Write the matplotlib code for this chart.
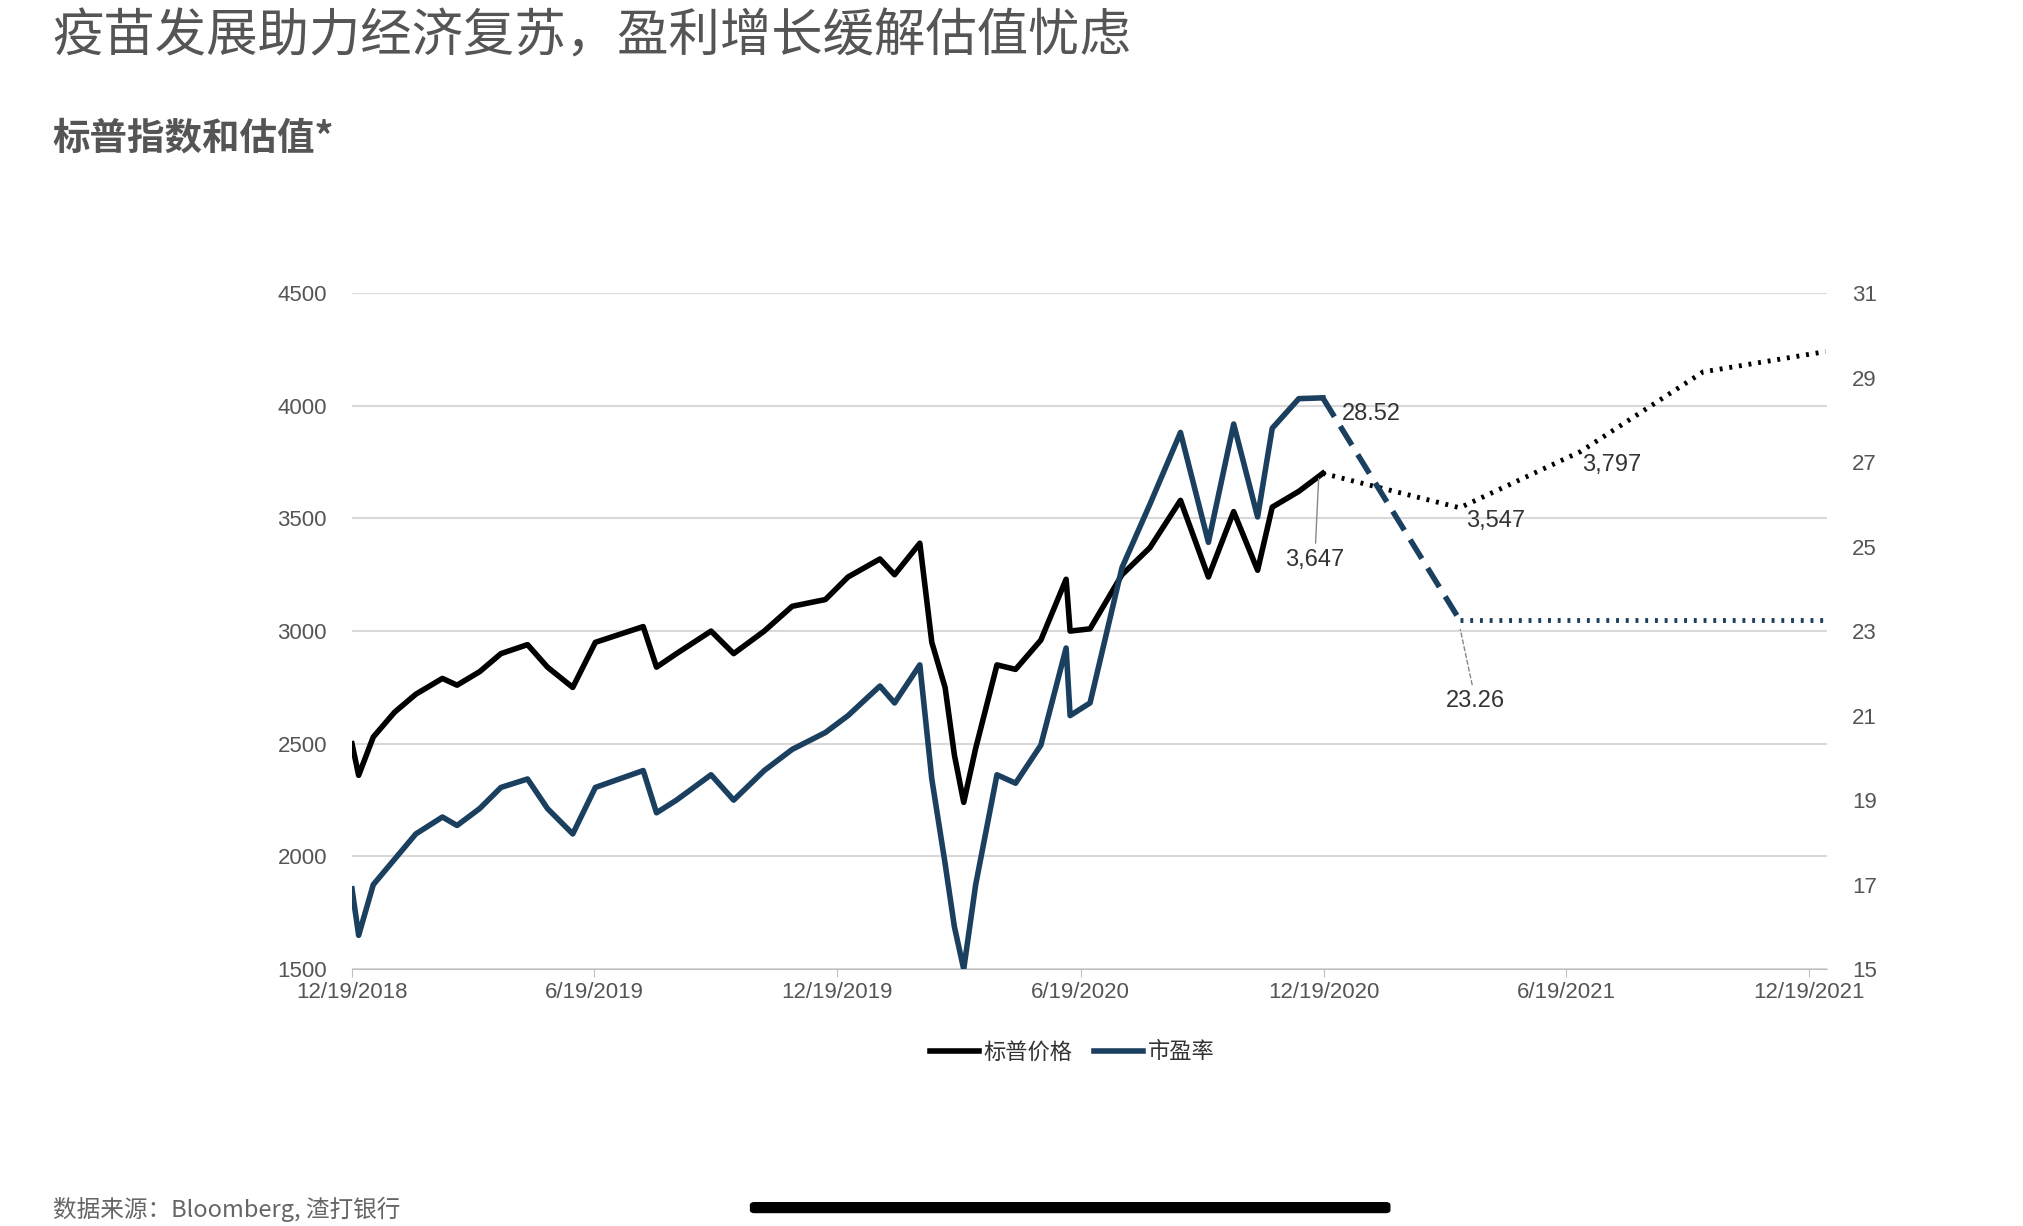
import matplotlib
matplotlib.use("Agg")
import matplotlib.pyplot as plt
import pandas as pd
from matplotlib.lines import Line2D

plt.rcParams['font.family'] = ['Noto Sans CJK SC', 'DejaVu Sans']

price_dates = ["2018-12-19","2018-12-24","2019-01-04","2019-01-20","2019-02-05","2019-02-25","2019-03-08","2019-03-25","2019-04-10","2019-04-30","2019-05-15","2019-06-03","2019-06-20","2019-07-26","2019-08-05","2019-08-20","2019-09-15","2019-10-02","2019-10-25","2019-11-15","2019-12-10","2019-12-27","2020-01-20","2020-01-31","2020-02-19","2020-02-28","2020-03-09","2020-03-16","2020-03-23","2020-04-01","2020-04-17","2020-05-01","2020-05-20","2020-06-08","2020-06-11","2020-06-26","2020-07-20","2020-08-10","2020-09-02","2020-09-23","2020-10-12","2020-10-30","2020-11-10","2020-11-30","2020-12-18"]
price_vals = [2500,2360,2530,2640,2720,2790,2760,2820,2900,2940,2840,2750,2950,3020,2840,2900,3000,2900,3000,3110,3140,3240,3320,3250,3390,2950,2750,2450,2240,2480,2850,2830,2960,3230,3000,3010,3250,3370,3580,3240,3530,3270,3550,3620,3700]
pe_vals = [16.9,15.8,17.0,17.6,18.2,18.6,18.4,18.8,19.3,19.5,18.8,18.2,19.3,19.7,18.7,19.0,19.6,19.0,19.7,20.2,20.6,21.0,21.7,21.3,22.2,19.5,17.5,16.0,15.0,17.0,19.6,19.4,20.3,22.6,21.0,21.3,24.5,26.0,27.7,25.1,27.9,25.7,27.8,28.5,28.52]

fc_dates = ["2020-12-18","2021-03-31","2021-06-30","2021-09-30","2021-12-31"]
fc_price = [3700,3547,3797,4150,4240]
pe_fc_dates = ["2020-12-18","2021-03-31","2021-12-31"]
pe_fc = [28.52,23.26,23.26]

black = "#000000"; blue = "#1b3f5e"; grey = "#555555"

fig = plt.figure(figsize=(20.23,12.26), dpi=100)
ax = fig.add_axes([0.174,0.2095,0.729,0.5515])
ax2 = ax.twinx()

pd_ = pd.to_datetime(price_dates)
ax.plot(pd_, price_vals, color=black, lw=4, zorder=3)
ax2.plot(pd_, pe_vals, color=blue, lw=4, zorder=2)
fd = pd.to_datetime(fc_dates)
ax.plot(fd, fc_price, color=black, lw=3.5, ls=(0,(0.6,1.4)))
pfd = pd.to_datetime(pe_fc_dates)
ax2.plot(pfd[:2], pe_fc[:2], color=blue, lw=4, ls=(0,(4,2)))
ax2.plot(pfd[1:], pe_fc[1:], color=blue, lw=3.5, ls=(0,(0.6,1.4)))

ax.set_ylim(1500,4500); ax2.set_ylim(15,31)
ax.set_yticks(range(1500,4501,500)); ax2.set_yticks(range(15,32,2))
ax.set_xlim(pd.Timestamp("2018-12-19"), pd.Timestamp("2022-01-01"))
xt = pd.to_datetime(["2018-12-19","2019-06-19","2019-12-19","2020-06-19","2020-12-19","2021-06-19","2021-12-19"])
ax.set_xticks(xt)
ax.set_xticklabels([f"{d.month}/{d.day}/{d.year}" for d in xt])
ax.grid(axis='y', color='#d9d9d9', lw=1.5)
ax.set_axisbelow(True)
for a in (ax, ax2):
    for s in ('top','left','right','bottom'):
        a.spines[s].set_visible(False)
ax.spines['bottom'].set_visible(True); ax.spines['bottom'].set_color('#bfbfbf')
for lab in ax.get_xticklabels() + ax.get_yticklabels() + ax2.get_yticklabels():
    lab.set_family('Liberation Sans')
ax.tick_params(axis='y', length=0, labelsize=16, colors=grey, pad=18)
ax2.tick_params(axis='y', length=0, labelsize=16, colors=grey, pad=18)
ax.tick_params(axis='x', length=6, color='#bfbfbf', labelsize=16, colors=grey)

af = dict(fontsize=17, color='#333333', family='Liberation Sans')
ax2.annotate("28.52", (pd.Timestamp("2020-12-18"), 28.52), xytext=(pd.Timestamp("2021-01-01"), 28.0), **af)
ax.annotate("3,647", (pd.Timestamp("2020-12-15"), 3690), xytext=(pd.Timestamp("2020-12-12"), 3290), ha='center',
            arrowprops=dict(arrowstyle='-', color='#888888', lw=1), **af)
ax.annotate("3,547", (pd.Timestamp("2021-03-31"), 3547), xytext=(pd.Timestamp("2021-04-05"), 3460), **af)
ax.annotate("3,797", (pd.Timestamp("2021-06-30"), 3797), xytext=(pd.Timestamp("2021-07-01"), 3710), **af)
ax2.annotate("23.26", (pd.Timestamp("2021-03-31"), 23.1), xytext=(pd.Timestamp("2021-04-12"), 21.2), ha='center',
             arrowprops=dict(arrowstyle='-', color='#888888', lw=1, ls=(0,(3,2))), **af)

h = [Line2D([],[],color=black,lw=4), Line2D([],[],color=blue,lw=4)]
fig.legend(h, ["标普价格","市盈率"], loc='center', bbox_to_anchor=(0.53,0.142), ncol=2, frameon=False,
           fontsize=16, handlelength=2.2, handletextpad=0.2, columnspacing=1.0, labelcolor='#333333')

fig.text(0.026,0.97,"疫苗发展助力经济复苏，盈利增长缓解估值忧虑", fontsize=37, color='#555555', va='center')
fig.text(0.026,0.887,"标普指数和估值*", fontsize=27, color='#555555', weight='bold', va='center')
fig.text(0.026,0.003,"数据来源：Bloomberg, 渣打银行", fontsize=17, color='#666666', va='bottom')
fig.patches.append(matplotlib.patches.FancyBboxPatch((0.373,0.013),0.312,0.004, boxstyle="round,pad=0.002", transform=fig.transFigure, color='black'))
fig.savefig("out.png", dpi=100)
